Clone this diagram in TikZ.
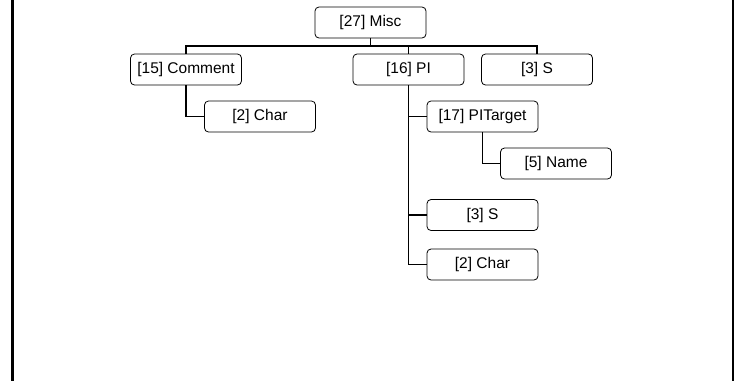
\documentclass[tikz,border=0pt]{standalone}
\usepackage{fontspec}
\setmainfont{Liberation Sans}
\usetikzlibrary{positioning}

\tikzset{
  box/.style={draw, rounded corners=4pt, line width=0.8pt, minimum width=111pt,
    minimum height=31pt, inner sep=3pt, font=\fontsize{15.5}{18}\selectfont},
  link/.style={line width=1.8pt}
}

\begin{document}
\begin{tikzpicture}[x=1pt, y=-1pt]
      \useasboundingbox (0, 0) rectangle (739, 381);
      \draw[line width=2.6pt] (12.5, 0) -- (12.5, 381);
      \draw[line width=1.4pt] (733, 0) -- (733, 381);

      \node[box] (misc) at (370.5, 22.5) {[27] Misc};

      \node[box] (comment) at (186, 69.5) {[15] Comment};
      \node[box] (pi) at (408.5, 69.5) {[16] PI};
      \node[box] (s1) at (537, 69.5) {[3] S};

      \node[box] (char1) at (260, 116.5) {[2] Char};
      \node[box] (pitarget) at (482.5, 116.5) {[17] PITarget};
      \node[box] (name) at (556, 163.5) {[5] Name};
      \node[box] (s2) at (482.5, 215) {[3] S};
      \node[box] (char2) at (482.5, 264.5) {[2] Char};

      \coordinate (bus) at (370.5, 46);

      \draw[link] (misc.south) -- (bus) -| (comment.north);
      \draw[link] (bus) -| (pi.north);
      \draw[link] (bus) -| (s1.north);

      \draw[link] (comment.south) |- (char1.west);
      \draw[link] (pi.south) |- (pitarget.west);
      \draw[link] (pi.south) |- (s2.west);
      \draw[link] (pi.south) |- (char2.west);
      \draw[link] (pitarget.south) |- (name.west);
\end{tikzpicture}
\end{document}
